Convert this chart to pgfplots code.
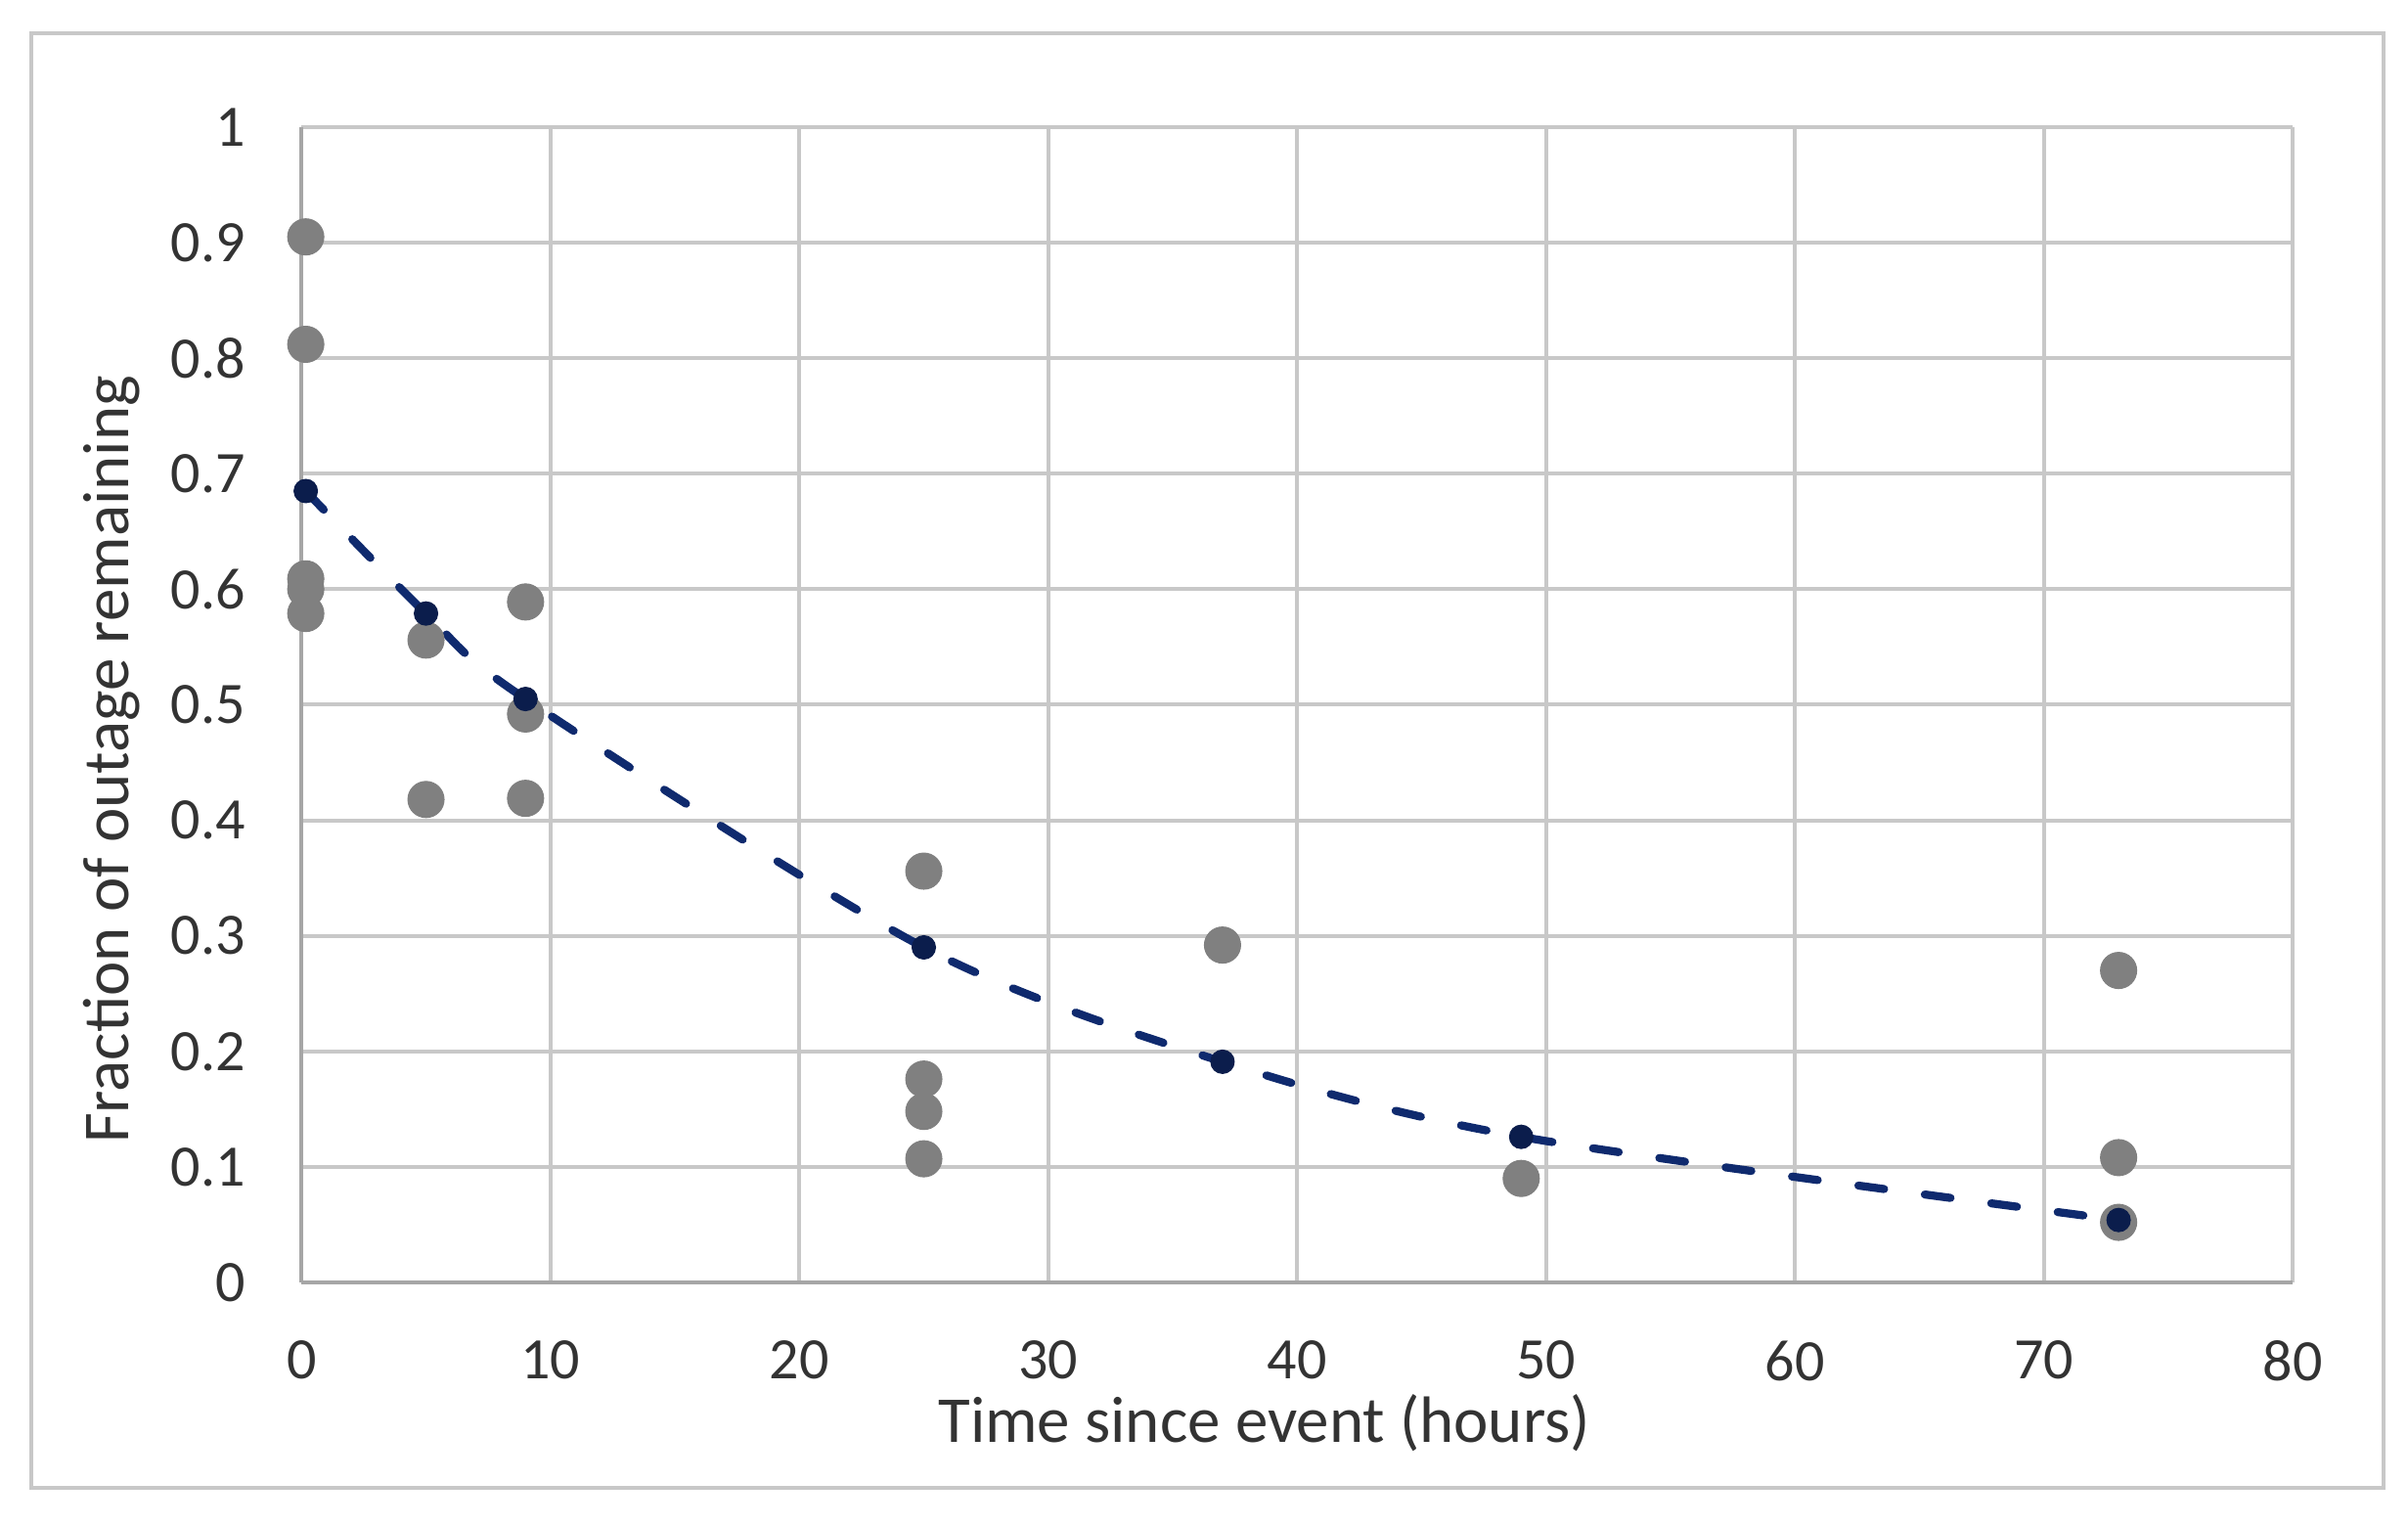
\documentclass[border=0pt]{standalone}
\usepackage{fontspec}
\setmainfont{Carlito}
\usepackage{pgfplots}
\pgfplotsset{compat=1.18}
\definecolor{ptgray}{HTML}{808080}
\definecolor{fitdot}{HTML}{0B1D4C}
\definecolor{fitline}{HTML}{0F2A6E}
\definecolor{gridc}{HTML}{C8C8C8}
\definecolor{axisc}{HTML}{A6A6A6}
\definecolor{txt}{HTML}{333333}
\begin{document}
\begin{tikzpicture}
\useasboundingbox (-61.66pt,-49.8pt) rectangle (430.74pt,262.2pt);
\draw[gridc, line width=0.8pt] (-55.3pt,-42.1pt) rectangle (425.7pt,255.3pt);
\begin{axis}[
  at={(0,0)}, anchor=south west,
  scale only axis, width=407.2pt, height=236.2pt,
  xmin=0, xmax=80, ymin=0, ymax=1,
  xtick={0,10,20,30,40,50,60,70,80},
  ytick={0,0.1,0.2,0.3,0.4,0.5,0.6,0.7,0.8,0.9,1},
  grid=major, major grid style={gridc, line width=0.8pt},
  axis lines=left, axis line style={axisc, line width=0.8pt, -},
  major tick length=0pt,
  tick label style={font=\fontsize{12}{14}\selectfont, text=txt},
  /pgf/number format/assume math mode=true,
  xticklabel style={anchor=north, inner sep=0pt, yshift=-11.8pt},
  yticklabel style={anchor=east, inner sep=0pt, xshift=-11.3pt},
  every axis x label/.style={at={(rel axis cs:0.4835,0)}, anchor=base, yshift=-32.8pt,
    font=\fontsize{13.4}{16}\selectfont, text=txt, inner sep=0pt},
  every axis y label/.style={at={(rel axis cs:0,0.4526)}, xshift=-35.3pt, rotate=90, anchor=base,
    font=\fontsize{13.4}{16}\selectfont, text=txt, inner sep=0pt},
  xlabel={Time since event (hours)},
  ylabel={Fraction of outage remaining},
  clip=false,
]
% observed fractions
\addplot[ptgray, only marks, mark=*, mark size=3.7pt,
  mark options={fill=ptgray, draw=ptgray, line width=0.2pt}]
coordinates {
  (0.17,0.905) (0.17,0.812) (0.17,0.609) (0.17,0.600) (0.17,0.579)
  (5,0.556) (5,0.418)
  (9,0.589) (9,0.492) (9,0.419)
  (25,0.356) (25,0.176) (25,0.148) (25,0.107)
  (37,0.292)
  (49,0.090)
  (73,0.270) (73,0.108) (73,0.052)
};
% fitted curve
\addplot[fitline, line width=1.65pt, dash pattern=on 5.3pt off 8.4pt, line cap=round, smooth,
  mark=*, mark size=2.4pt, mark options={solid, fill=fitdot, draw=fitdot, line width=0.2pt}]
coordinates {
  (0.17,0.685) (5,0.579) (9,0.505) (25,0.290) (37,0.191) (49,0.126) (73,0.054)
};
\end{axis}
\end{tikzpicture}
\end{document}
